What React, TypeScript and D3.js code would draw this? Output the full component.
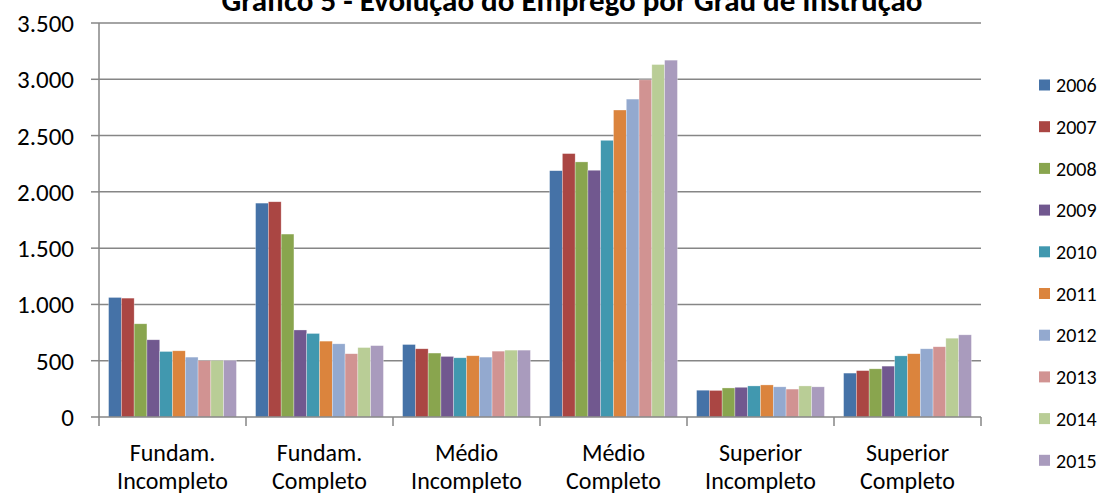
import React from "react";
import * as d3 from "d3";

const categories = [
  ["Fundam.", "Incompleto"],
  ["Fundam.", "Completo"],
  ["Médio", "Incompleto"],
  ["Médio", "Completo"],
  ["Superior", "Incompleto"],
  ["Superior", "Completo"],
];
const years = ["2006", "2007", "2008", "2009", "2010", "2011", "2012", "2013", "2014", "2015"];
const colors = ["#4572A7", "#AA4643", "#89A54E", "#71588F", "#4198AF", "#DB843D", "#93A9CF", "#D19392", "#B9CD96", "#A99BBD"];

const fundIncompleto = [1062, 1056, 828, 686, 582, 588, 532, 500, 502, 504];
const fundCompleto = [1900, 1912, 1625, 773, 742, 674, 650, 562, 617, 634];
const medioIncompleto = [644, 606, 568, 538, 526, 544, 532, 585, 594, 594];
const medioCompleto = [2188, 2340, 2266, 2192, 2458, 2727, 2824, 2995, 3131, 3170];
const supIncompleto = [238, 236, 258, 264, 276, 285, 268, 248, 276, 268];
const supCompleto = [390, 412, 428, 452, 543, 562, 606, 624, 700, 730];

const values = [fundIncompleto, fundCompleto, medioIncompleto, medioCompleto, supIncompleto, supCompleto];
const yTicks = [0, 500, 1000, 1500, 2000, 2500, 3000, 3500];
const title = "Gráfico 5 - Evolução do Emprego por Grau de Instrução";

const W = 1103;
const H = 497;
const left = 99;
const right = 981;
const top = 23;
const bottom = 417;
const FONT = "Carlito, Calibri, Lato, 'Open Sans', sans-serif";

export default function App() {
  const x0 = d3.scaleBand<number>().domain(d3.range(categories.length)).range([left, right]).paddingInner(0).paddingOuter(0);
  const bw = x0.bandwidth();
  const gap = 1.5;
  const unit = bw / (years.length + gap);
  const x1 = d3.scaleBand<number>().domain(d3.range(years.length)).range([unit * gap / 2, bw - unit * gap / 2]).padding(0);
  const y = d3.scaleLinear().domain([0, 3500]).range([bottom, top]);
  const fmt = (v: number) => d3.format(",")(v).replace(/,/g, ".");

  return (
    <svg width={W} height={H} style={{ position: "absolute", left: 0, top: 0, fontFamily: FONT }}>
      <rect width={W} height={H} fill="#fff" />
      <text x={572} y={11} textAnchor="middle" fontSize={31} fontWeight="bold" fill="#000">{title}</text>
      {yTicks.map((t) => (
        <g key={t}>
          {t > 0 && <line x1={left} x2={right} y1={y(t)} y2={y(t)} stroke="#868686" strokeWidth={1.5} />}
          <line x1={left - 8} x2={left} y1={y(t)} y2={y(t)} stroke="#868686" strokeWidth={1.5} />
          <text x={74} y={y(t)} dy="0.36em" textAnchor="end" fontSize={25} fill="#000">{fmt(t)}</text>
        </g>
      ))}
      {values.map((vals, ci) => (
        <g key={ci} transform={`translate(${x0(ci)},0)`}>
          {vals.map((v, si) => (
            <rect key={si} x={x1(si)} y={y(v)} width={x1.bandwidth()} height={bottom - y(v)} fill={colors[si]} stroke="#ffffff" strokeOpacity={0.5} strokeWidth={0.6} />
          ))}
        </g>
      ))}
      <line x1={left} x2={left} y1={top} y2={bottom} stroke="#868686" strokeWidth={1.5} />
      <line x1={left} x2={right} y1={bottom} y2={bottom} stroke="#868686" strokeWidth={1.5} />
      {d3.range(categories.length + 1).map((i) => {
        const xx = left + i * bw;
        return <line key={i} x1={xx} x2={xx} y1={bottom} y2={bottom + 9} stroke="#868686" strokeWidth={1.5} />;
      })}
      {categories.map((c, ci) => (
        <text key={ci} x={(x0(ci) as number) + bw / 2} textAnchor="middle" fontSize={24} fill="#000">
          <tspan x={(x0(ci) as number) + bw / 2} y={461}>{c[0]}</tspan>
          <tspan x={(x0(ci) as number) + bw / 2} y={489}>{c[1]}</tspan>
        </text>
      ))}
      {years.map((yr, i) => {
        const cy = 85 + i * 41.7;
        return (
          <g key={yr}>
            <rect x={1039} y={cy - 5.5} width={11} height={11} fill={colors[i]} />
            <text x={1056} y={cy} dy="0.36em" fontSize={20} fill="#000">{yr}</text>
          </g>
        );
      })}
    </svg>
  );
}
